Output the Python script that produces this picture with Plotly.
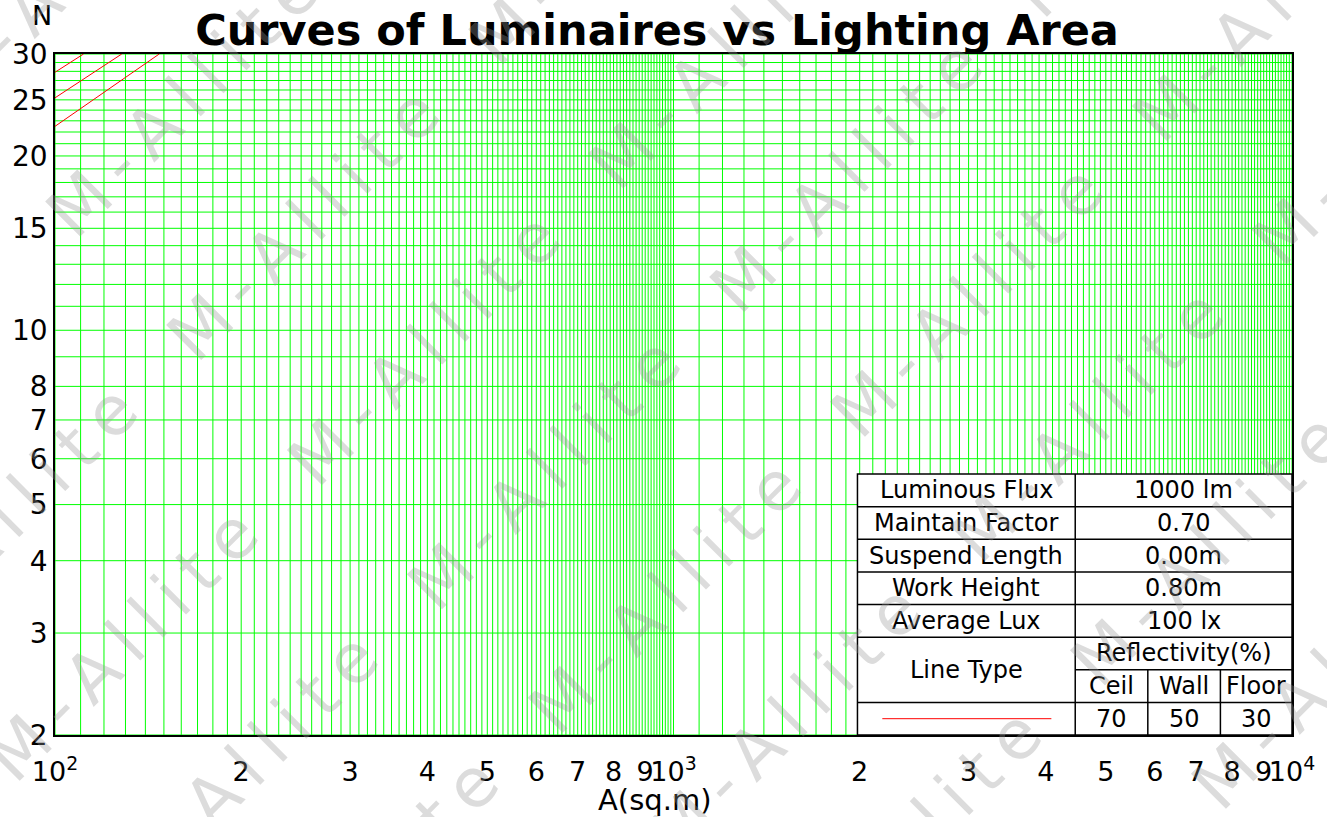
import numpy as np
import plotly.graph_objects as go

# ---- data ----
curve_area = [[100, 111.2], [100, 128.2], [100, 147.4]]
curve_n = [[27.9, 30.0], [25.2, 30.0], [22.5, 30.0]]

x_tickvals = [100, 200, 300, 400, 500, 600, 700, 800, 900,
              1000, 2000, 3000, 4000, 5000, 6000, 7000, 8000, 9000, 10000]
x_ticktext = ["10<sup>2</sup>", "2", "3", "4", "5", "6", "7", "8", "9",
              "10<sup>3</sup>", "2", "3", "4", "5", "6", "7", "8", "9",
              "10<sup>4</sup>"]
y_tickvals = [2, 3, 4, 5, 6, 7, 8, 10, 15, 20, 25, 30]

param_names = ["Luminous Flux", "Maintain Factor", "Suspend Length", "Work Height", "Average Lux"]
param_values = ["1000 lm", "0.70", "0.00m", "0.80m", "100 lx"]
reflect_heads = ["Ceil", "Wall", "Floor"]
reflect_values = ["70", "50", "30"]

FONT = "DejaVu Sans"
W, H = 1327, 817
L, R, T, B = 48, 1292, 54, 735  # plot area in pixels


def paper(px, py):
    return (px - L) / (R - L), (B - py) / (B - T)


fig = go.Figure()

# log graph paper grid
gx = np.concatenate([np.arange(100, 1000, 10), np.arange(1000, 10001, 100)])
gy = np.arange(2, 31)
vx, vy = [], []
for x in gx:
    vx += [x, x, None]
    vy += [2, 30, None]
hx, hy = [], []
for y in gy:
    hx += [100, 10000, None]
    hy += [y, y, None]
for xs, ys in ((vx, vy), (hx, hy)):
    fig.add_trace(go.Scatter(x=xs, y=ys, mode="lines", line=dict(color="#00ff00", width=1),
                             hoverinfo="skip", showlegend=False))

for xs, ys in zip(curve_area, curve_n):
    fig.add_trace(go.Scatter(x=xs, y=ys, mode="lines", line=dict(color="red", width=1),
                             showlegend=False))

shapes = []
annotations = []

# table
tl, tr, tt, tb = 855, 1292, 474, 735
c1, c2, c3 = 1074, 1147, 1220
rh = (tb - tt) / 8


def seg(x0, y0, x1, y1, color="black", width=1.5):
    a0, b0 = paper(x0, y0)
    a1, b1 = paper(x1, y1)
    shapes.append(dict(type="line", xref="paper", yref="paper", x0=a0, y0=b0, x1=a1, y1=b1,
                       line=dict(color=color, width=width), layer="above"))


a0, b0 = paper(tl, tt)
a1, b1 = paper(tr, tb)
shapes.append(dict(type="rect", xref="paper", yref="paper", x0=a0, y0=b0, x1=a1, y1=b1,
                   fillcolor="white", line=dict(color="black", width=1.5), layer="above"))
for k in [1, 2, 3, 4, 5, 7]:
    seg(tl, tt + k * rh, tr, tt + k * rh)
seg(c1, tt + 6 * rh, tr, tt + 6 * rh)
seg(c1, tt, c1, tb)
seg(c2, tt + 6 * rh, c2, tb)
seg(c3, tt + 6 * rh, c3, tb)
seg(880, tt + 7.5 * rh, 1050, tt + 7.5 * rh, color="red", width=1)


def cell(text, cx, cy, size=24):
    x_, y_ = paper(cx, cy)
    annotations.append(dict(x=x_, y=y_, xref="paper", yref="paper", text=text, showarrow=False,
                            xanchor="center", yanchor="middle",
                            font=dict(family=FONT, size=size, color="black")))


for k, (name, val) in enumerate(zip(param_names, param_values)):
    cy = tt + (k + 0.5) * rh
    cell(name, (tl + c1) / 2, cy)
    cell(val, (c1 + tr) / 2, cy)
cell("Line Type", (tl + c1) / 2, tt + 6 * rh)
cell("Reflectivity(%)", (c1 + tr) / 2, tt + 5.5 * rh)
for (x0, x1), head, val in zip([(c1, c2), (c2, c3), (c3, tr)], reflect_heads, reflect_values):
    cell(head, (x0 + x1) / 2, tt + 6.5 * rh)
    cell(val, (x0 + x1) / 2, tt + 7.5 * rh)

# axis captions
nx, ny = paper(35, 15)
annotations.append(dict(x=nx, y=ny, xref="paper", yref="paper", text="N", showarrow=False,
                        xanchor="center", yanchor="middle",
                        font=dict(family=FONT, size=27, color="black")))
ax_, ay_ = paper(651, 800)
annotations.append(dict(x=ax_, y=ay_, xref="paper", yref="paper", text="A(sq.m)", showarrow=False,
                        xanchor="center", yanchor="middle",
                        font=dict(family=FONT, size=29, color="black")))

# watermark (spaced-out, rotated text tiled over the whole page)
base = np.array([298.0, 225.0])
v1 = np.array([121.0, 124.0])
v2 = np.array([304.0, -296.0])
wm_text = "\u2009".join("M-Allite")
for i in range(-8, 10):
    for j in range(-3, 6):
        cx, cy = base + i * v1 + j * v2
        if -120 < cx < W + 120 and -120 < cy < H + 120:
            px_, py_ = paper(cx, cy)
            annotations.append(dict(x=px_, y=py_, xref="paper", yref="paper", text=wm_text,
                                    showarrow=False, textangle=-45,
                                    xanchor="center", yanchor="middle",
                                    font=dict(family=FONT, size=68, color="rgba(150,150,150,0.33)")))

fig.update_layout(
    width=W, height=H, autosize=False,
    margin=dict(l=L, r=W - R, t=T, b=H - B),
    paper_bgcolor="white", plot_bgcolor="white",
    title=dict(text="<b>Curves of Luminaires vs Lighting Area</b>", x=657 / W, xanchor="center",
               y=1 - 30 / H, yanchor="middle", yref="container",
               font=dict(family=FONT, size=43, color="black")),
    xaxis=dict(type="log", range=[2, 4], showgrid=False, zeroline=False,
               tickmode="array", tickvals=x_tickvals, ticktext=x_ticktext, tickangle=0,
               tickfont=dict(family=FONT, size=27, color="black"), ticklabelstandoff=12,
               showline=True, linecolor="black", linewidth=1.5, mirror=True, ticks=""),
    yaxis=dict(type="log", range=[np.log10(2), np.log10(30)], showgrid=False, zeroline=False,
               tickmode="array", tickvals=y_tickvals, ticktext=[str(v) for v in y_tickvals],
               tickfont=dict(family=FONT, size=28, color="black"),
               showline=True, linecolor="black", linewidth=1.5, mirror=True, ticks=""),
    shapes=shapes,
    annotations=annotations,
)

fig.write_html("out.html", config={"displayModeBar": False},
               post_script="document.body.style.margin = '0';")
